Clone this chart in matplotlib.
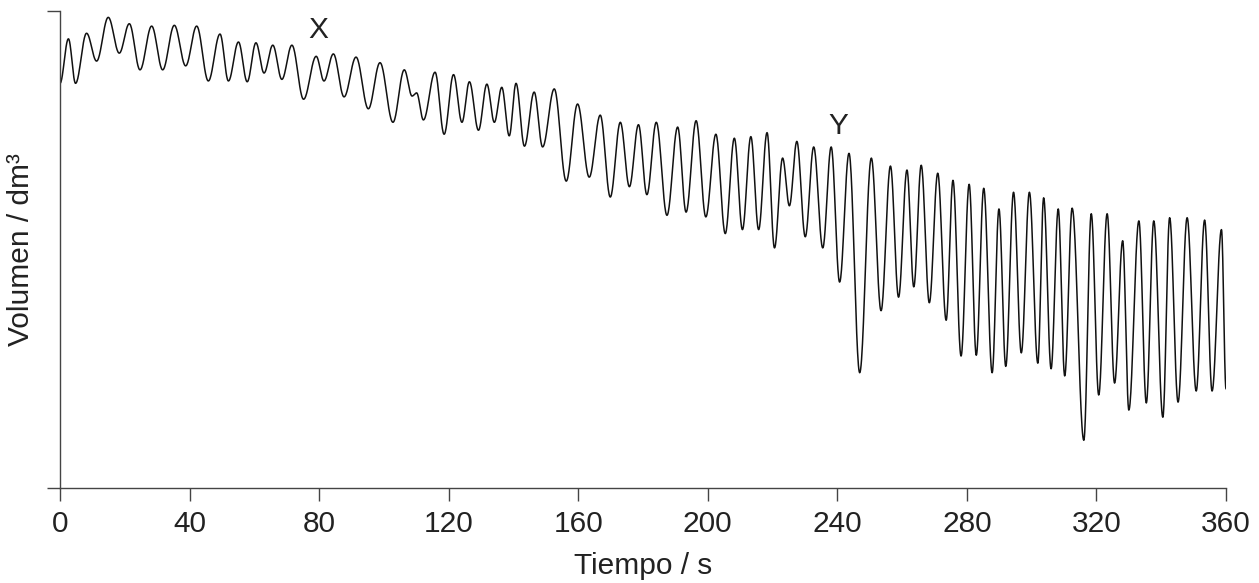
import numpy as np
import matplotlib
matplotlib.use("Agg")
import matplotlib.pyplot as plt

plt.rcParams['font.family'] = ['Liberation Sans', 'DejaVu Sans']

# Extrema of the spirometer trace (time in s, volume in dm3)
time_s = [0.0, 2.6, 4.8, 8.2, 11.3, 14.9, 18.3, 21.4, 24.7, 28.3, 31.7, 35.3, 38.8, 42.2,
          45.8, 49.4, 52.0, 55.1, 57.8, 60.5, 63.0, 65.7, 68.5, 71.6, 75.2, 79.1, 81.5,
          84.4, 87.7, 91.4, 95.2, 98.8, 102.8, 106.3, 108.7, 110.1, 112.2, 115.8, 118.6,
          121.5, 124.1, 126.4, 129.2, 131.8, 134.1, 136.4, 138.7, 140.8, 143.4, 146.4,
          149.0, 152.6, 156.3, 159.8, 163.4, 166.8, 169.9, 173.0, 175.8, 178.6, 181.2,
          184.1, 187.4, 190.7, 193.3, 196.4, 199.4, 202.5, 205.4, 208.2, 210.7, 213.3,
          215.7, 218.3, 220.6, 223.1, 225.2, 227.5, 230.1, 232.7, 235.5, 238.1, 240.7,
          243.6, 246.9, 250.5, 253.5, 256.4, 258.9, 261.5, 263.6, 265.9, 268.4, 271.0,
          273.6, 275.7, 278.2, 280.7, 282.9, 285.2, 287.8, 289.9, 292.0, 294.4, 296.8,
          299.3, 301.9, 303.7, 306.0, 308.2, 310.2, 312.5, 316.1, 318.4, 320.7, 323.3,
          325.6, 328.1, 330.0, 333.1, 335.4, 337.7, 340.5, 342.6, 345.2, 348.0, 350.8,
          353.4, 355.7, 358.6, 360.0]
volume_dm3 = [5.09, 5.65, 5.09, 5.72, 5.37, 5.92, 5.47, 5.84, 5.26, 5.81, 5.26, 5.82, 5.31,
              5.81, 5.12, 5.71, 5.12, 5.61, 5.11, 5.60, 5.22, 5.57, 5.14, 5.57, 4.89, 5.43,
              5.12, 5.46, 4.92, 5.42, 4.77, 5.35, 4.60, 5.26, 4.93, 4.97, 4.63, 5.23, 4.45,
              5.20, 4.60, 5.11, 4.50, 5.08, 4.60, 5.04, 4.43, 5.09, 4.30, 4.98, 4.29, 5.02,
              3.86, 4.83, 3.91, 4.69, 3.66, 4.60, 3.79, 4.57, 3.69, 4.60, 3.43, 4.54, 3.47,
              4.62, 3.41, 4.45, 3.20, 4.40, 3.25, 4.42, 3.25, 4.47, 3.02, 4.15, 3.55, 4.36,
              3.16, 4.29, 3.02, 4.29, 2.59, 4.21, 1.45, 4.15, 2.23, 4.05, 2.40, 4.00, 2.53,
              4.06, 2.33, 3.96, 2.11, 3.87, 1.66, 3.82, 1.67, 3.77, 1.45, 3.51, 1.53, 3.72,
              1.70, 3.72, 1.57, 3.65, 1.50, 3.51, 1.41, 3.52, 0.60, 3.45, 1.17, 3.45, 1.32,
              3.11, 0.98, 3.36, 1.07, 3.36, 0.89, 3.40, 1.08, 3.40, 1.22, 3.37, 1.22, 3.25,
              1.25]

x_ticks = [0, 40, 80, 120, 160, 200, 240, 280, 320, 360]
labels = {"X": (79.7, 5.76), "Y": (240.3, 4.55)}

# smooth (half-cosine) path between successive extrema
tt, vv = [], []
for i in range(len(time_s) - 1):
    s = np.linspace(0, 1, 25, endpoint=False)
    w = (1 - np.cos(np.pi * s)) / 2
    tt.append(time_s[i] + (time_s[i + 1] - time_s[i]) * s)
    vv.append(volume_dm3[i] + (volume_dm3[i + 1] - volume_dm3[i]) * w)
tt.append([time_s[-1]]); vv.append([volume_dm3[-1]])
tt = np.concatenate(tt); vv = np.concatenate(vv)

fig = plt.figure(figsize=(12.59, 5.83), dpi=100)
ax = fig.add_axes([60/1259, 1 - 488/583, (1226 - 60)/1259, (488 - 11)/583])
ax.plot(tt, vv, color='#111111', lw=1.1, solid_joinstyle='round')
ax.set_xlim(0, 360)
ax.set_ylim(0, 6)
ax.set_xticks(x_ticks)
ax.set_xticklabels([str(t) for t in x_ticks])
ax.set_yticks([0, 6])
ax.set_yticklabels([])
for s in ['top', 'right']:
    ax.spines[s].set_visible(False)
for s in ['left', 'bottom']:
    ax.spines[s].set_color('#444444')
    ax.spines[s].set_linewidth(1.0)
ax.tick_params(axis='both', direction='out', length=9.5, width=1.0, color='#444444',
               labelsize=21.5, labelcolor='#222222', pad=6.5)
ax.set_xlabel('Tiempo / s', fontsize=21.5, color='#222222', labelpad=10)
ax.set_ylabel('Volumen / dm³', fontsize=21.5, color='#222222', labelpad=2)
for k, (x, y) in labels.items():
    ax.text(x, y, k, fontsize=21.5, color='#222222', ha='center', va='center')

fig.savefig('out.png', dpi=100)
